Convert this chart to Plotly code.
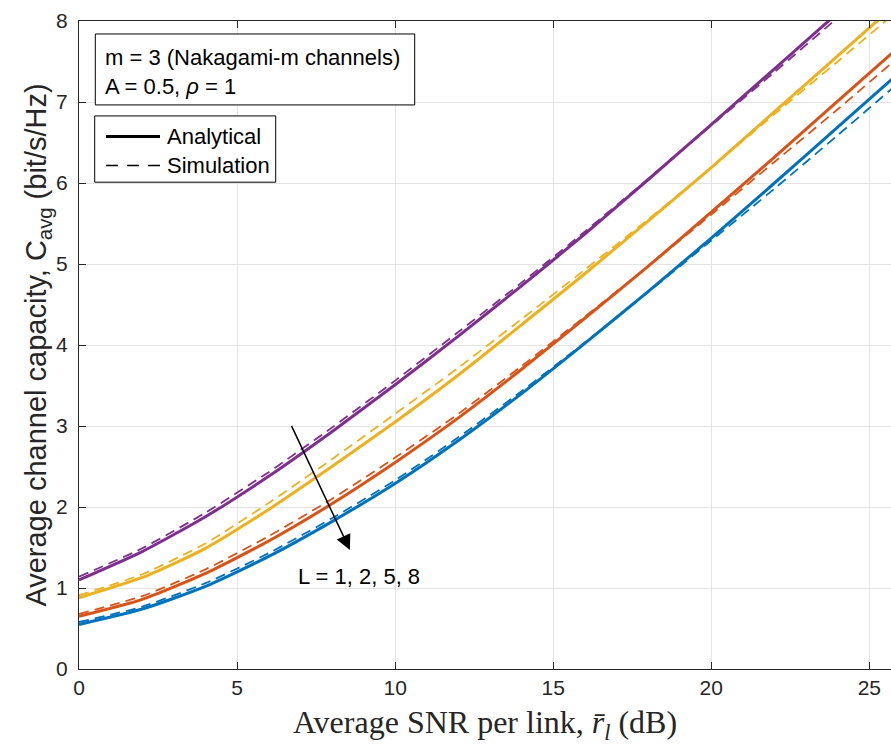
import plotly.graph_objects as go

# ---------------- data ----------------
snr_db = [0, 2, 4, 6, 8, 10, 12, 14, 16, 18, 20, 22, 24, 26]

ana_L1 = [1.10, 1.45, 1.88, 2.38, 2.93, 3.51, 4.11, 4.73, 5.37, 6.04, 6.72, 7.41, 8.10, 8.79]
ana_L2 = [0.88, 1.13, 1.49, 1.97, 2.50, 3.05, 3.63, 4.25, 4.88, 5.53, 6.19, 6.88, 7.57, 8.26]
ana_L5 = [0.65, 0.86, 1.18, 1.58, 2.04, 2.55, 3.10, 3.70, 4.33, 4.97, 5.64, 6.32, 7.01, 7.70]
ana_L8 = [0.55, 0.74, 1.02, 1.39, 1.82, 2.29, 2.82, 3.40, 4.02, 4.66, 5.32, 6.00, 6.69, 7.38]

sim_L1 = [1.14, 1.49, 1.93, 2.43, 2.98, 3.56, 4.16, 4.77, 5.40, 6.05, 6.71, 7.37, 8.04, 8.71]
sim_L2 = [0.91, 1.17, 1.55, 2.05, 2.59, 3.15, 3.72, 4.32, 4.93, 5.55, 6.19, 6.85, 7.50, 8.16]
sim_L5 = [0.68, 0.90, 1.23, 1.64, 2.10, 2.61, 3.15, 3.74, 4.35, 4.97, 5.61, 6.26, 6.91, 7.58]
sim_L8 = [0.58, 0.77, 1.06, 1.43, 1.86, 2.33, 2.86, 3.43, 4.03, 4.65, 5.29, 5.93, 6.59, 7.26]

series_labels = ["L = 1", "L = 2", "L = 5", "L = 8"]
colors = ["#7E2F8E", "#EDB120", "#D95319", "#0072BD"]

x_ticks = [0, 5, 10, 15, 20, 25]
y_ticks = [0, 1, 2, 3, 4, 5, 6, 7, 8]

# ---------------- layout geometry (px) ----------------
W, H = 891, 745
L_PX, R_PX, T_PX, B_PX = 79, 891, 21, 669.5


def px_x(p):
    return (p - L_PX) / (R_PX - L_PX)


def px_y(p):
    return (B_PX - p) / (B_PX - T_PX)


fig = go.Figure()

for name, col, a in zip(series_labels, colors, [ana_L1, ana_L2, ana_L5, ana_L8]):
    fig.add_trace(go.Scatter(x=snr_db, y=a, mode="lines", name=name + " (Analytical)",
                             line=dict(color=col, width=3, shape="spline", smoothing=0.6),
                             showlegend=False))
for name, col, s in zip(series_labels, colors, [sim_L1, sim_L2, sim_L5, sim_L8]):
    fig.add_trace(go.Scatter(x=snr_db, y=s, mode="lines", name=name + " (Simulation)",
                             line=dict(color=col, width=1.8, dash="10px,6px", shape="spline", smoothing=0.6),
                             showlegend=False))

SANS = "Liberation Sans, Arial, Helvetica, sans-serif"
SERIF = "Liberation Serif, Times New Roman, serif"

shapes = []
annotations = []

# info box
shapes.append(dict(type="rect", xref="paper", yref="paper",
                   x0=px_x(95.3), x1=px_x(414.7), y0=px_y(105), y1=px_y(34),
                   line=dict(color="black", width=1), fillcolor="white", layer="above"))
annotations.append(dict(xref="paper", yref="paper", x=px_x(103), y=px_y(57.5),
                        xanchor="left", yanchor="middle", showarrow=False,
                        text="m = 3 (Nakagami-m channels)", font=dict(family=SANS, size=22, color="black")))
annotations.append(dict(xref="paper", yref="paper", x=px_x(103), y=px_y(86.5),
                        xanchor="left", yanchor="middle", showarrow=False,
                        text="A = 0.5, <i>ρ</i> = 1", font=dict(family=SANS, size=22, color="black")))

# legend box
shapes.append(dict(type="rect", xref="paper", yref="paper",
                   x0=px_x(94.7), x1=px_x(275.7), y0=px_y(182.3), y1=px_y(116),
                   line=dict(color="black", width=1), fillcolor="white", layer="above"))
shapes.append(dict(type="line", xref="paper", yref="paper",
                   x0=px_x(106), x1=px_x(160), y0=px_y(136.7), y1=px_y(136.7),
                   line=dict(color="black", width=3), layer="above"))
shapes.append(dict(type="line", xref="paper", yref="paper",
                   x0=px_x(106), x1=px_x(160), y0=px_y(165.7), y1=px_y(165.7),
                   line=dict(color="black", width=1.5, dash="12px,9px"), layer="above"))
annotations.append(dict(xref="paper", yref="paper", x=px_x(165), y=px_y(136.7),
                        xanchor="left", yanchor="middle", showarrow=False,
                        text="Analytical", font=dict(family=SANS, size=22, color="black")))
annotations.append(dict(xref="paper", yref="paper", x=px_x(165), y=px_y(165.7),
                        xanchor="left", yanchor="middle", showarrow=False,
                        text="Simulation", font=dict(family=SANS, size=22, color="black")))

# arrow + label
annotations.append(dict(x=8.57, y=1.47, ax=6.58, ay=3.12, xref="x", yref="y", axref="x", ayref="y",
                        showarrow=True, arrowhead=2, arrowsize=2, arrowwidth=1.5, arrowcolor="black",
                        text=" "))
annotations.append(dict(x=6.85, y=1.14, xref="x", yref="y", xanchor="left", yanchor="middle",
                        showarrow=False, text="L = 1, 2, 5, 8",
                        font=dict(family=SANS, size=22, color="black")))

fig.update_layout(
    width=W, height=H,
    margin=dict(l=L_PX, r=W - R_PX, t=T_PX, b=H - B_PX),
    paper_bgcolor="white", plot_bgcolor="white",
    showlegend=False,
    shapes=shapes, annotations=annotations,
    font=dict(family=SANS, size=21, color="#262626"),
)

fig.update_xaxes(
    range=[0, (R_PX - L_PX) / ((869.3 - 79) / 25)],
    tickvals=x_ticks, ticktext=[str(v) for v in x_ticks],
    ticks="inside", ticklen=7, tickwidth=1, tickcolor="#262626",
    showline=True, linecolor="#262626", linewidth=1, mirror="ticks",
    showgrid=True, gridcolor="#e3e3e3", gridwidth=1, zeroline=False,
    tickfont=dict(family=SANS, size=21, color="#262626"),
    title=dict(text="Average SNR per link, <i>r̄</i><sub><i>l</i></sub> (dB)",
               font=dict(family=SERIF, size=32, color="#262626"), standoff=12),
)
fig.update_yaxes(
    range=[0, 8],
    tickvals=y_ticks, ticktext=[str(v) for v in y_ticks],
    ticks="inside", ticklen=7, tickwidth=1, tickcolor="#262626",
    ticklabelstandoff=6,
    showline=True, linecolor="#262626", linewidth=1, mirror=False,
    showgrid=True, gridcolor="#e3e3e3", gridwidth=1, zeroline=False,
    tickfont=dict(family=SANS, size=21, color="#262626"),
    title=dict(text="Average channel capacity, C<sub>avg</sub> (bit/s/Hz)",
               font=dict(family=SANS, size=29, color="#262626"), standoff=0),
)

fig.write_html("out.html")
